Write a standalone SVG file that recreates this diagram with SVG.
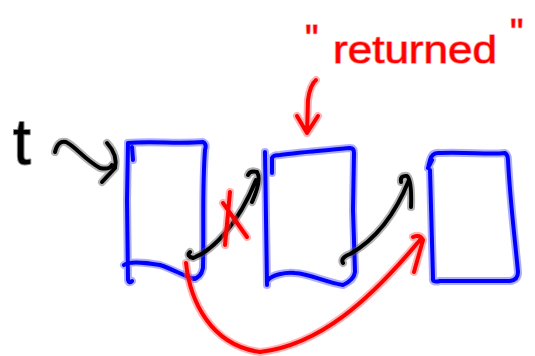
<svg xmlns="http://www.w3.org/2000/svg" xmlns:xlink="http://www.w3.org/1999/xlink" width="535" height="356" viewBox="0 0 535 356">
<style>
.h{fill:none;stroke-linecap:round;stroke-linejoin:round;stroke-width:8;stroke-opacity:.45}
.s{fill:none;stroke-linecap:round;stroke-linejoin:round;stroke-width:4}
.blue .h{stroke:#4d4dff}.blue .s{stroke:#0000ff}
.red .h{stroke:#ff5a5a}.red .s{stroke:#ff0000}
.blk .h{stroke:#555}.blk .s{stroke:#000}
.txt{font-family:"Liberation Sans",Arial,sans-serif;paint-order:stroke;stroke-linejoin:round}
</style>
<defs>
<path id="b1" d="M128,143 L127,200 L128,280 Q129,284 132,281 M132,147 L133,160 M128,143 C150,141 180,144 203,142 Q207,144 205,150 C202,190 204,230 203,268 Q201,278 193,279 M124,265 Q130,260 160,265 C175,270 185,277 195,279"/>
<path id="b2" d="M265,152 L267,285 M272,173 L272,158 Q273,155 280,155 C300,152 330,150 350,148 Q354,148 354,153 L353,210 L355,272 Q354,280 343,285 C325,282 310,274 295,273 C285,272 272,275 268,280"/>
<path id="b3" d="M428,168 L430,160 Q432,152 440,153 C470,152 490,155 505,153 Q508,155 508,160 C510,200 515,240 518,272 Q518,280 510,281 L440,281 Q432,283 433,278 L430,170 M428,168 L432,160"/>
<path id="c1" d="M55,152 Q58,140 66,142 C75,146 85,160 100,168 Q110,170 112,165 M107,143 Q118,155 115,168 L102,182"/>
<path id="c2" d="M190,252 Q186,256 193,258 C215,250 240,220 256,180 M248,175 Q250,170 257,172 Q262,180 252,202"/>
<path id="c3" d="M343,263 Q340,258 350,254 C375,240 395,215 409,180 M401,182 Q400,175 407,176 Q412,180 411,207"/>
<path id="c4" d="M186,263 C190,300 210,345 260,352 C320,345 370,300 420,240 M413,237 Q420,234 423,240 L414,272"/>
<path id="c5" d="M316,80 Q310,85 308,100 L307,133 M297,116 L307,133 L318,116"/>
<path id="c6" d="M230,192 L225,245 M223,203 L247,237"/>
</defs>
<g id="node-box1" class="blue"><use href="#b1" class="h"/><use href="#b1" class="s"/></g>
<g id="node-box2" class="blue"><use href="#b2" class="h"/><use href="#b2" class="s"/></g>
<g id="node-box3" class="blue"><use href="#b3" class="h"/><use href="#b3" class="s"/></g>
<g id="label-t"><text class="txt" x="13" y="164" font-size="64" fill="#000" stroke="#888" stroke-width="2">t</text></g>
<g id="label-returned"><text class="txt" font-size="38" fill="#ff0000" stroke="#ff9090" stroke-width="1.5"><tspan x="305" y="52">"</tspan><tspan x="333" y="63" textLength="164" lengthAdjust="spacingAndGlyphs">returned</tspan><tspan x="510" y="46">"</tspan></text></g>
<g id="connectors">
<g class="blk"><use href="#c1" class="h"/><use href="#c1" class="s"/></g>
<g class="blk"><use href="#c2" class="h"/><use href="#c2" class="s"/></g>
<g class="blk"><use href="#c3" class="h"/><use href="#c3" class="s"/></g>
<g class="red"><use href="#c4" class="h"/><use href="#c4" class="s"/></g>
<g class="red"><use href="#c5" class="h"/><use href="#c5" class="s"/></g>
<g class="red"><use href="#c6" class="h"/><use href="#c6" class="s"/></g>
</g>
</svg>
